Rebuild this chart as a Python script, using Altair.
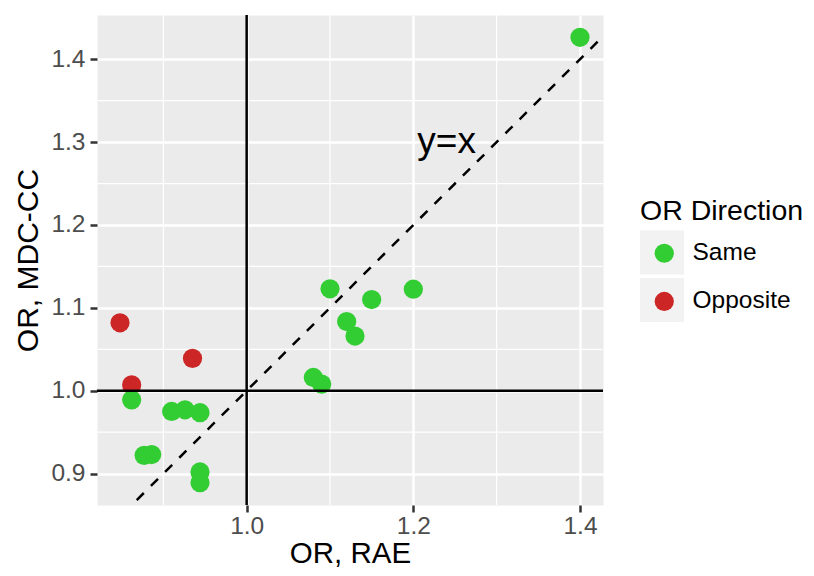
import altair as alt
import pandas as pd

# ---- data ----
rae = [0.848, 0.935, 0.862, 0.862, 0.910, 0.926, 0.944, 0.877, 0.886, 0.944, 0.944,
       1.10, 1.15, 1.20, 1.12, 1.13, 1.08, 1.09, 1.40]
mdc = [1.082, 1.039, 1.007, 0.989, 0.975, 0.977, 0.9735, 0.922, 0.923, 0.902, 0.889,
       1.123, 1.110, 1.1225, 1.0835, 1.066, 1.016, 1.008, 1.4265]
direction = ["Opposite"] * 3 + ["Same"] * 16
dir_levels = ["Same", "Opposite"]
dir_colors = ["#32CD32", "#CD2626"]

x_major = [1.0, 1.2, 1.4]
x_minor = [0.9, 1.1, 1.3]
y_major = [0.9, 1.0, 1.1, 1.2, 1.3, 1.4]
y_minor = [0.95, 1.05, 1.15, 1.25, 1.35]
ref_line = [0.8, 1.5]          # y = x
ref_h = [1.0]
ref_v = [1.0]
label_x = [1.24]
label_y = [1.30]
label_txt = ["y=x"]

FONT = "Liberation Sans"

df = pd.DataFrame({"rae": rae, "mdc": mdc, "dir": direction})

xs = alt.Scale(domain=[0.8204, 1.4276], nice=False, zero=False)
ys = alt.Scale(domain=[0.8621, 1.4534], nice=False, zero=False)

xaxis = alt.Axis(values=x_major, format=".1f", title="OR, RAE", grid=True,
                 gridColor="white", gridWidth=2.5, domain=False,
                 tickColor="#333333", tickWidth=2.5, tickSize=7,
                 labelFontSize=24.5, labelColor="#4d4d4d", labelFont=FONT, labelPadding=2,
                 titleFontSize=29.5, titleFont=FONT, titleFontWeight="normal",
                 titleColor="black", titlePadding=2)
yaxis = alt.Axis(values=y_major, format=".1f", title="OR, MDC-CC", grid=True,
                 gridColor="white", gridWidth=2.5, domain=False,
                 tickColor="#333333", tickWidth=2.5, tickSize=7,
                 labelFontSize=24.5, labelColor="#4d4d4d", labelFont=FONT, labelPadding=5,
                 titleFontSize=30, titleFont=FONT, titleFontWeight="normal",
                 titleColor="black", titlePadding=7)


def X(f):
    return alt.X(f, type="quantitative", scale=xs, axis=xaxis)


def Y(f):
    return alt.Y(f, type="quantitative", scale=ys, axis=yaxis)


# gray legend key backgrounds (legend only; marks invisible)
keys = alt.Chart(df).mark_point(shape="square", filled=True, opacity=0).encode(
    x=X("rae"), y=Y("mdc"),
    color=alt.Color("dir:N",
                    scale=alt.Scale(domain=dir_levels, range=["#f2f2f2", "#f2f2f2"]),
                    legend=alt.Legend(title="OR Direction", orient="none",
                                      legendX=543, legendY=182, padding=0,
                                      symbolType="square", symbolSize=1936,
                                      symbolOpacity=1, symbolStrokeWidth=0,
                                      labelExpr="''", titleFontSize=28.5, titleFont=FONT,
                                      titleFontWeight="normal", titleColor="black",
                                      titleLimit=300,
                                      titlePadding=5, rowPadding=3.6)),
)

xminor = alt.Chart(pd.DataFrame({"v": x_minor})).mark_rule(
    color="white", strokeWidth=1.2).encode(x=X("v"))
yminor = alt.Chart(pd.DataFrame({"v": y_minor})).mark_rule(
    color="white", strokeWidth=1.2).encode(y=Y("v"))

points = alt.Chart(df).mark_circle(size=370, opacity=1).encode(
    x=X("rae"), y=Y("mdc"),
    color=alt.Color("dir:N",
                    scale=alt.Scale(domain=dir_levels, range=dir_colors),
                    legend=alt.Legend(title=None, orient="none",
                                      legendX=555, legendY=226, padding=0,
                                      symbolType="circle", symbolSize=370,
                                      symbolOpacity=1, symbolStrokeWidth=0,
                                      labelFontSize=24.5, labelFont=FONT,
                                      labelColor="black", labelOffset=16,
                                      rowPadding=23.2)),
)

hline = alt.Chart(pd.DataFrame({"v": ref_h})).mark_rule(
    color="black", strokeWidth=2.5).encode(y=Y("v"))
vline = alt.Chart(pd.DataFrame({"v": ref_v})).mark_rule(
    color="black", strokeWidth=2.5).encode(x=X("v"))

diag = alt.Chart(pd.DataFrame({"a": ref_line, "b": ref_line})).mark_line(
    color="black", strokeWidth=2.5, strokeDash=[10, 10], clip=True).encode(
    x=X("a"), y=Y("b"))

label = alt.Chart(pd.DataFrame({"x": label_x, "y": label_y, "t": label_txt})).mark_text(
    fontSize=37, font=FONT, color="black", align="center", baseline="middle").encode(
    x=X("x"), y=Y("y"), text="t:N")

chart = alt.layer(keys, xminor, yminor, points, hline, vline, diag, label).resolve_scale(
    color="independent"
).properties(
    width=506, height=490, autosize="none",
    padding={"left": 89, "top": 7, "right": 203, "bottom": 63},
    background="white",
).configure_view(fill="#EBEBEB", stroke="transparent")

chart.save("out.html", embed_options={"renderer": "svg", "actions": False})
